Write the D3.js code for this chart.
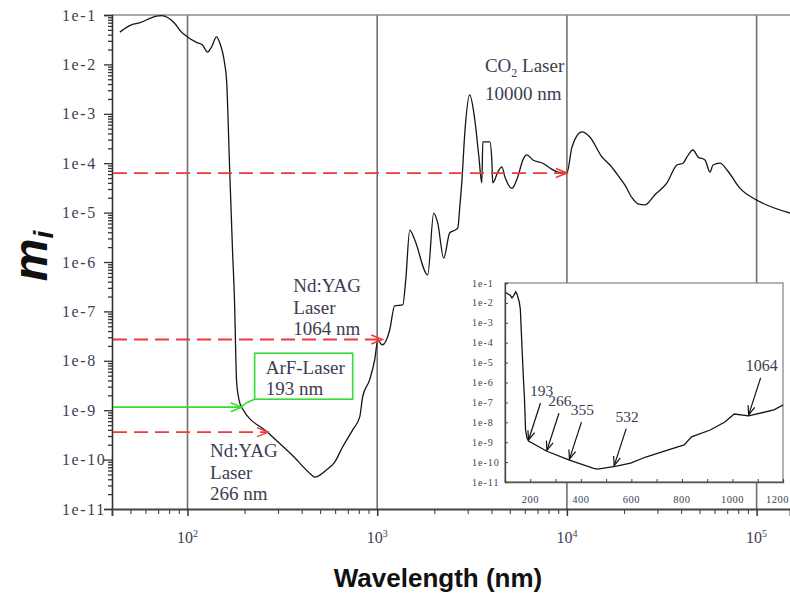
<!DOCTYPE html>
<html>
<head>
<meta charset="utf-8">
<script src="https://cdn.jsdelivr.net/npm/d3@7"></script>
<style>
  body { margin: 0; background: #fff; }
  svg { display: block; }
</style>
</head>
<body>
<div id="chart"></div>
<script>
// wavelength (nm) and imaginary refractive index
const wavelength = [44, 50.6, 55.8, 68.6, 73, 85.3, 93, 100, 111.5, 120, 127.6, 133.9, 142.3, 147.6,
  156.8, 160.7, 166.7, 172.7, 176.9, 181.4, 187, 193, 266, 355, 451, 467.6, 541, 597, 657, 743, 809, 838,
  912, 970, 1007, 1064, 1164, 1236, 1364, 1414, 1485, 1578, 1846, 1986, 2084, 2242, 2413, 2566, 2661,
  2725, 2792, 2896, 3076, 3271, 3436, 3560, 3605, 3926, 4020, 4065, 4325, 4540, 4710, 5130, 5510,
  5860, 6150, 6620, 7470, 8130, 8970, 10000, 10630, 11990, 13210, 15300, 16870, 19040, 20240, 22040,
  23700, 25800, 29120, 33700, 38030, 40920, 42960, 46210, 49100, 53460, 56850, 58900, 64150, 69840,
  81800, 100000, 150000];
const mi = [0.045, 0.063, 0.069, 0.095, 0.097, 0.069, 0.045, 0.036, 0.028, 0.0247, 0.0178, 0.0225, 0.036, 0.028,
  0.0107, 0.0048, 8.4e-5, 1.75e-6, 1.7e-7, 4e-9, 1.6e-9, 1.15e-9, 3.5e-10, 1.25e-10, 4.9e-11, 4.4e-11, 6.2e-11, 8.9e-11, 1.8e-10, 4e-10, 7.3e-10, 1.85e-9,
  4.1e-9, 1.04e-8, 2.6e-8, 2.1e-8, 4.2e-8, 1.3e-7, 1.35e-7, 4.3e-7, 4.4e-6, 2.8e-6, 5.5e-7, 9.8e-6, 6.2e-6, 1.2e-6, 3.9e-6, 4.4e-6, 4.9e-6,
  1.3e-5, 4e-5, 4.1e-4, 2.4e-3, 7.5e-4, 1.34e-4, 4e-5, 2.7e-4, 2.7e-4, 1.16e-4, 4e-5, 6.6e-5, 8.4e-5, 5.3e-5, 3.1e-5, 5.3e-5,
  1.16e-4, 1.47e-4, 1.16e-4, 1.0e-4, 8e-5, 6.6e-5, 6.3e-5, 2.1e-4, 4.3e-4, 3.4e-4, 1.34e-4, 9.2e-5, 5e-5, 3.6e-5, 2.0e-5,
  1.5e-5, 1.43e-5, 2.3e-5, 4e-5, 9.2e-5, 1.0e-4, 1.34e-4, 1.85e-4, 1.34e-4, 1.16e-4, 6.6e-5, 9.2e-5, 1.0e-4, 7.3e-5,
  3.1e-5, 1.8e-5, 9.8e-6];

const yTickLabels = ["1e-1", "1e-2", "1e-3", "1e-4", "1e-5", "1e-6", "1e-7", "1e-8", "1e-9", "1e-10", "1e-11"];
const xDecades = [1e2, 1e3, 1e4, 1e5];
const xDecadeExp = ["2", "3", "4", "5"];

// laser lines: 193 ArF, 266 Nd:YAG, 1064 Nd:YAG, 10000 CO2
const laserWl = [193, 266, 1064, 10000];
const laserMi = [1.15e-9, 3.6e-10, 2.7e-8, 6.3e-5];

const insetMarks = [193, 266, 355, 532, 1064];
const insetXLabels = [200, 400, 600, 800, 1000, 1200];

const W = 790, H = 595;
const txtColor = "#3d3d52";
const red = "#ee3a3a", green = "#33dd33";

const svg = d3.select("#chart").append("svg").attr("width", W).attr("height", H);

const x = d3.scaleLog().domain([40, 1.5e5]).range([112, 790]);
const y = d3.scaleLog().domain([1e-11, 1e-1]).range([509, 15]);
const data = wavelength.map((w, i) => ({ w: w, m: mi[i] }));
const decades = yTickLabels.map((d, i) => Math.pow(10, -1 - i));

svg.append("clipPath").attr("id", "clipMain")
  .append("rect").attr("x", 112).attr("y", 15).attr("width", 678).attr("height", 494);

// vertical grid at decades
svg.append("g").selectAll("line").data(xDecades).enter().append("line")
  .attr("x1", d => x(d)).attr("x2", d => x(d))
  .attr("y1", 15).attr("y2", 509)
  .attr("stroke", "#707070").attr("stroke-width", 1.6);

// top border
svg.append("line").attr("x1", 112).attr("x2", 790).attr("y1", 15).attr("y2", 15)
  .attr("stroke", "#8c8c8c").attr("stroke-width", 1.6);

// main curve
const line = d3.line().x(d => x(d.w)).y(d => y(d.m)).curve(d3.curveMonotoneX);
svg.append("path").datum(data)
  .attr("clip-path", "url(#clipMain)")
  .attr("d", line).attr("fill", "none").attr("stroke", "#151515")
  .attr("stroke-width", 1.3).attr("stroke-linejoin", "round");

// y axis
function minorLog(lo, hi) {
  const out = [];
  for (let e = Math.floor(Math.log10(lo)); e <= Math.ceil(Math.log10(hi)); e++)
    for (let k = 2; k <= 9; k++) { const v = k * Math.pow(10, e); if (v >= lo && v <= hi) out.push(v); }
  return out;
}
const yAxis = svg.append("g").attr("transform", "translate(112,0)")
  .call(d3.axisLeft(y).tickValues(decades).tickSize(8).tickFormat(""));
svg.append("g").attr("transform", "translate(112,0)")
  .call(d3.axisLeft(y).tickValues(minorLog(1e-11, 1e-1)).tickSize(4).tickFormat(""))
  .select(".domain").remove();
svg.selectAll("g.tick line").attr("stroke", "#333").attr("stroke-width", 1.3);
yAxis.select(".domain").attr("stroke", "#333").attr("stroke-width", 1.6);

svg.append("g").selectAll("text").data(decades).enter().append("text")
  .attr("x", 62).attr("y", d => y(d)).attr("dy", "0.35em")
  .attr("font-family", "Liberation Serif, serif").attr("font-size", 16)
  .attr("letter-spacing", 1.6).attr("fill", txtColor)
  .text((d, i) => yTickLabels[i]);

// x axis
const xAxis = svg.append("g").attr("transform", "translate(0,509)")
  .call(d3.axisBottom(x).tickValues(xDecades).tickSize(7).tickFormat(""));
const xMinor = svg.append("g").attr("transform", "translate(0,509)")
  .call(d3.axisBottom(x).tickValues(minorLog(41, 1.5e5)).tickSize(5).tickFormat(""));
xMinor.select(".domain").remove();
xAxis.select(".domain").attr("stroke", "#444").attr("stroke-width", 2);
xAxis.selectAll(".tick line").attr("stroke", "#333").attr("stroke-width", 1.5);
xMinor.selectAll(".tick line").attr("stroke", "#444").attr("stroke-width", 1.1);

const xl = svg.append("g").selectAll("text").data(xDecades).enter().append("text")
  .attr("x", d => x(d)).attr("y", 543).attr("text-anchor", "middle")
  .attr("font-family", "Liberation Serif, serif").attr("font-size", 16).attr("fill", txtColor);
xl.append("tspan").text("10");
xl.append("tspan").attr("dy", -6).attr("font-size", 10).text((d, i) => xDecadeExp[i]);

// axis titles
svg.append("text").attr("x", 438).attr("y", 587).attr("text-anchor", "middle")
  .attr("font-family", "Liberation Sans, Arial, sans-serif").attr("font-weight", "bold")
  .attr("font-size", 26).attr("fill", "#111").text("Wavelength (nm)");
const yt = svg.append("text").attr("transform", "translate(47,256) rotate(-90)")
  .attr("text-anchor", "middle")
  .attr("font-family", "Liberation Sans, Arial, sans-serif").attr("font-weight", "bold")
  .attr("font-style", "italic").attr("fill", "#111");
yt.append("tspan").attr("font-size", 48).text("m");
yt.append("tspan").attr("font-size", 28).attr("dy", 6).text("i");

// arrow head helper
function head(g, tx, ty, ang, color, len, half, sw) {
  const c = Math.cos(ang), s = Math.sin(ang);
  const p1 = [tx - len * c + half * s, ty - len * s - half * c];
  const p2 = [tx - len * c - half * s, ty - len * s + half * c];
  g.append("path").attr("d", `M${p1[0]},${p1[1]}L${tx},${ty}L${p2[0]},${p2[1]}`)
    .attr("fill", "none").attr("stroke", color).attr("stroke-width", sw);
}

// laser arrows
const ann = svg.append("g");
laserWl.forEach((w, i) => {
  const tx = x(w), ty = y(laserMi[i]);
  const col = i === 0 ? green : red;
  ann.append("line").attr("x1", 113).attr("x2", tx - 2).attr("y1", ty).attr("y2", ty)
    .attr("stroke", col).attr("stroke-width", i === 0 ? 1.7 : 1.9)
    .attr("stroke-dasharray", i === 0 ? null : "14,7");
  head(ann, tx, ty, 0, col, 11, 4.5, 1.6);
});

function textLines(g, x0, y0, lines, step) {
  lines.forEach((t, i) => g.append("text").attr("x", x0).attr("y", y0 + i * step)
    .attr("font-family", "Liberation Serif, serif").attr("font-size", 19)
    .attr("fill", txtColor).text(t));
}

// ArF box
const t193 = [x(laserWl[0]), y(laserMi[0])];
ann.append("rect").attr("x", t193[0] + 13).attr("y", t193[1] - 54).attr("width", 98).attr("height", 46)
  .attr("fill", "none").attr("stroke", green).attr("stroke-width", 1.6);
ann.append("path").attr("d", `M${t193[0] + 13},${t193[1] - 8}L${t193[0] + 6},${t193[1] - 5}L${t193[0]},${t193[1] - 1}`)
  .attr("fill", "none").attr("stroke", green).attr("stroke-width", 1.6);
textLines(ann, t193[0] + 24, t193[1] - 33, ["ArF-Laser", "193 nm"], 21);

const t266 = [x(laserWl[1]), y(laserMi[1])];
textLines(ann, t266[0] - 58, t266[1] + 25, ["Nd:YAG", "Laser", "266 nm"], 21.5);
const t1064 = [x(laserWl[2]), y(laserMi[2])];
textLines(ann, t1064[0] - 89, t1064[1] - 47, ["Nd:YAG", "Laser", "1064 nm"], 21.5);

const t10k = [x(laserWl[3]), y(laserMi[3])];
const co2 = ann.append("text").attr("x", t10k[0] - 82).attr("y", t10k[1] - 101)
  .attr("font-family", "Liberation Serif, serif").attr("font-size", 19).attr("fill", txtColor);
co2.append("tspan").text("CO");
co2.append("tspan").attr("font-size", 12).attr("dy", 5).text("2");
co2.append("tspan").attr("dy", -5).text(" Laser");
textLines(ann, t10k[0] - 82, t10k[1] - 73, ["10000 nm"], 21);

// ---- inset ----
const xi = d3.scaleLinear().domain([100, 1200]).range([505, 783]);
const yi = d3.scaleLog().domain([1e-11, 1e-1]).range([482, 283]);
const ins = svg.append("g");
ins.append("rect").attr("x", 505).attr("y", 283).attr("width", 278).attr("height", 199)
  .attr("fill", "#fff").attr("stroke", "#8a8a8a").attr("stroke-width", 1.3);
ins.append("clipPath").attr("id", "clipIns")
  .append("rect").attr("x", 505).attr("y", 283).attr("width", 278).attr("height", 199);

const insData = data.filter(d => d.w >= 90 && d.w <= 1300);
ins.append("path").datum(insData).attr("clip-path", "url(#clipIns)")
  .attr("d", d3.line().x(d => xi(d.w)).y(d => yi(d.m)))
  .attr("fill", "none").attr("stroke", "#151515").attr("stroke-width", 1.3);

const iy = ins.append("g").attr("transform", "translate(505,0)")
  .call(d3.axisLeft(yi).tickValues(decades).tickSize(-3).tickFormat(""));
iy.select(".domain").attr("stroke", "#444").attr("stroke-width", 1.3);
iy.selectAll(".tick line").attr("stroke", "#444");
const ix = ins.append("g").attr("transform", "translate(0,482)")
  .call(d3.axisBottom(xi).tickValues(d3.range(100, 1201, 100)).tickSize(-3).tickFormat(""));
ix.select(".domain").attr("stroke", "#555").attr("stroke-width", 1.3);
ix.selectAll(".tick line").attr("stroke", "#444");

ins.append("g").selectAll("text").data(decades).enter().append("text")
  .attr("x", 472).attr("y", d => yi(d)).attr("dy", "0.35em")
  .attr("font-family", "Liberation Serif, serif").attr("font-size", 10)
  .attr("letter-spacing", 1).attr("fill", txtColor)
  .text((d, i) => yTickLabels[i]);
// last label is pulled in so it stays inside the picture
ins.append("g").selectAll("text").data(insetXLabels).enter().append("text")
  .attr("x", d => d === 1200 ? 789 : xi(d)).attr("y", 503)
  .attr("text-anchor", d => d === 1200 ? "end" : "middle")
  .attr("font-family", "Liberation Serif, serif").attr("font-size", 10.5)
  .attr("letter-spacing", 0.5).attr("fill", txtColor).text(d => d);

// value on the inset curve (linear in wavelength, log in mi)
function insetValue(w) {
  for (let i = 0; i < insData.length - 1; i++) {
    const a = insData[i], b = insData[i + 1];
    if (w >= a.w && w <= b.w) {
      const f = (w - a.w) / (b.w - a.w);
      return Math.pow(10, Math.log10(a.m) + f * (Math.log10(b.m) - Math.log10(a.m)));
    }
  }
  return insData[insData.length - 1].m;
}
insetMarks.forEach(w => {
  const tx = xi(w), ty = yi(insetValue(w)) - 1;
  const sx = tx + 12, sy = ty - 37;
  ins.append("line").attr("x1", sx).attr("y1", sy).attr("x2", tx).attr("y2", ty)
    .attr("stroke", "#111").attr("stroke-width", 1.2);
  head(ins, tx, ty, Math.atan2(ty - sy, tx - sx), "#111", 9, 3.5, 1.2);
  ins.append("text").attr("x", tx + 13).attr("y", ty - 44).attr("text-anchor", "middle")
    .attr("font-family", "Liberation Serif, serif").attr("font-size", w === 1064 ? 16 : 15.5)
    .attr("fill", txtColor).text(w);
});
</script>
</body>
</html>
